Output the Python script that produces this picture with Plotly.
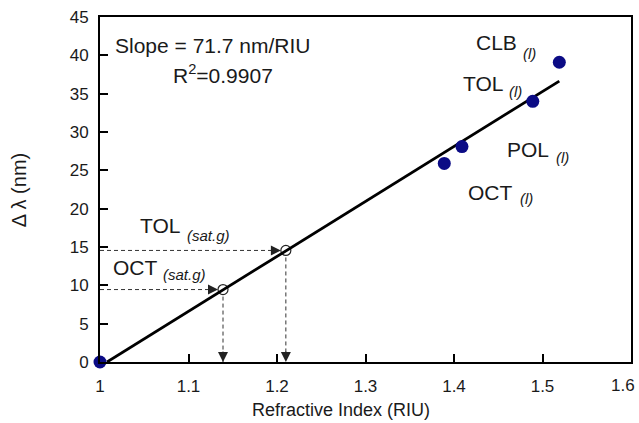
import plotly.graph_objects as go

# Measured peak shifts for the liquid samples (plus the air reference at n = 1)
ri_liquid = [1.0, 1.389, 1.409, 1.489, 1.519]
shift_liquid = [0.0, 25.9, 28.1, 34.0, 39.1]

# Saturated-vapour responses read back against the calibration line
ri_sat = [1.139, 1.210]
shift_sat = [9.45, 14.55]

# Linear calibration fit
fit_slope = 71.7
fit_intercept = -72.27
fit_x = [1.008, 1.519]
fit_y = [fit_slope * x + fit_intercept for x in fit_x]

# Axis ticks
x_ticks = [1.0, 1.1, 1.2, 1.3, 1.4, 1.5, 1.6]
x_tick_text = ["1", "1.1", "1.2", "1.3", "1.4", "1.5", "1.6"]

# Sample labels: (name, state, name position, state position)
labels = [
    ("CLB", "(l)", (1.4237, 41.67), (1.4768, 40.24)),
    ("TOL", "(l)", (1.4090, 36.39), (1.4610, 35.28)),
    ("POL", "(l)", (1.4588, 27.72), (1.5141, 26.61)),
    ("OCT", "(l)", (1.4147, 22.11), (1.4735, 21.30)),
    ("TOL", "(sat.g)", (1.0441, 17.80), (1.0972, 16.56)),
    ("OCT", "(sat.g)", (1.0136, 12.39), (1.0701, 11.41)),
]

FONT = "Liberation Sans, Arial, sans-serif"
INK = "#1a1a1a"

fig = go.Figure()

# Dashed guide lines from the axes to the saturated-vapour points
for xs, ys in zip(ri_sat, shift_sat):
    fig.add_trace(go.Scatter(x=[1.0, xs], y=[ys, ys], mode="lines",
                             line=dict(color="#333", width=1, dash="4px,3px"),
                             hoverinfo="skip", cliponaxis=False))
    fig.add_trace(go.Scatter(x=[xs, xs], y=[ys, 0], mode="lines",
                             line=dict(color="#333", width=1, dash="4px,3px"),
                             hoverinfo="skip", cliponaxis=False))

# Open circles for the vapour points
fig.add_trace(go.Scatter(x=ri_sat, y=shift_sat, mode="markers",
                         marker=dict(size=10, color="white",
                                     line=dict(color="#222", width=1.2)),
                         cliponaxis=False))

# Calibration line
fig.add_trace(go.Scatter(x=fit_x, y=fit_y, mode="lines",
                         line=dict(color="black", width=2.8),
                         cliponaxis=False))

# Liquid data points
fig.add_trace(go.Scatter(x=ri_liquid, y=shift_liquid, mode="markers",
                         marker=dict(size=13, color="#0b0b85"),
                         cliponaxis=False))

annotations = []
# Arrowheads at the ends of the dashed guides
for xs, ys in zip(ri_sat, shift_sat):
    annotations.append(dict(x=xs, y=ys, xref="x", yref="y", ax=-12, ay=0,
                            showarrow=True, arrowhead=2, arrowsize=2,
                            arrowwidth=1, arrowcolor="#222", standoff=5, text=""))
    annotations.append(dict(x=xs, y=0, xref="x", yref="y", ax=0, ay=-12,
                            showarrow=True, arrowhead=2, arrowsize=2,
                            arrowwidth=1, arrowcolor="#222", standoff=0, text=""))

for name, state, (nx, ny), (sx, sy) in labels:
    annotations.append(dict(
        x=nx, y=ny, xref="x", yref="y", xanchor="left", yanchor="middle",
        text=name, showarrow=False, borderpad=0,
        font=dict(family=FONT, size=21, color=INK)))
    annotations.append(dict(
        x=sx, y=sy, xref="x", yref="y", xanchor="left", yanchor="middle",
        text=f"<i>{state}</i>", showarrow=False, borderpad=0,
        font=dict(family=FONT, size=15, color=INK)))

annotations.append(dict(x=1.1277, y=41.3, xref="x", yref="y", xanchor="center",
                        yanchor="middle", text="Slope = 71.7 nm/RIU",
                        showarrow=False, font=dict(family=FONT, size=21, color=INK)))
annotations.append(dict(x=1.139, y=37.6, xref="x", yref="y", xanchor="center",
                        yanchor="middle", text="R<sup>2</sup>=0.9907",
                        showarrow=False, font=dict(family=FONT, size=21, color=INK)))

# Last x tick label is pulled in so it stays inside the page
annotations.append(dict(x=x_ticks[-1], y=-0.0667, xref="x", yref="paper",
                        xanchor="right", yanchor="middle", xshift=5,
                        text=x_tick_text[-1], showarrow=False, borderpad=0,
                        font=dict(family=FONT, size=17, color=INK)))

# Axis titles
annotations.append(dict(x=0.4548, y=-0.139, xref="paper", yref="paper",
                        xanchor="center", yanchor="middle",
                        text="Refractive Index (RIU)", showarrow=False,
                        font=dict(family=FONT, size=18, color=INK)))
annotations.append(dict(x=-0.152, y=0.4986, xref="paper", yref="paper",
                        xanchor="center", yanchor="middle", textangle=-90,
                        text="Δ λ (nm)", showarrow=False,
                        font=dict(family=FONT, size=20, color=INK)))

fig.update_layout(
    width=639, height=423,
    margin=dict(l=100, r=8, t=17, b=61, autoexpand=False),
    paper_bgcolor="white", plot_bgcolor="white",
    showlegend=False,
    font=dict(family=FONT, size=17, color=INK),
    annotations=annotations,
    xaxis=dict(range=[1.0, 1.6], tickvals=x_ticks,
               ticktext=x_tick_text[:-1] + [""],
               ticks="inside", ticklen=8, tickwidth=1.5, tickcolor="black",
               showline=True, linecolor="black", linewidth=2, mirror=True,
               showgrid=False, zeroline=False, ticklabelstandoff=8,
               automargin=False),
    yaxis=dict(range=[0, 45], dtick=5, tick0=0,
               ticks="inside", ticklen=8, tickwidth=1.5, tickcolor="black",
               showline=True, linecolor="black", linewidth=2, mirror=True,
               showgrid=False, zeroline=False, ticklabelstandoff=6,
               ticklabeloverflow="allow", automargin=False),
)

fig.write_html("out.html")
